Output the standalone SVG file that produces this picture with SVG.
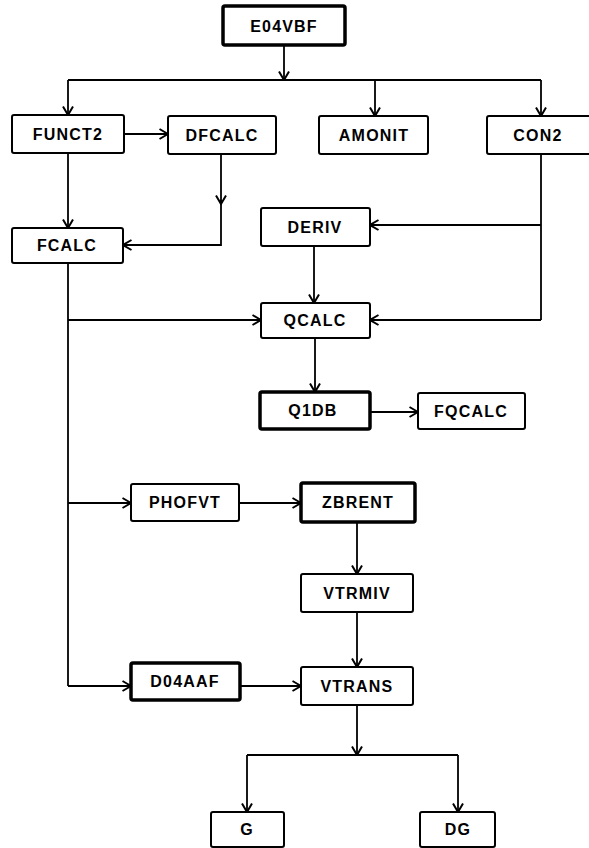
<svg xmlns="http://www.w3.org/2000/svg" width="589" height="848" viewBox="0 0 589 848">
<style>
.box{fill:#fff;stroke:#000;stroke-width:2}
.thick{fill:#fff;stroke:#000;stroke-width:3.5}
.lbl{font-family:"Liberation Sans",Arial,sans-serif;font-weight:bold;font-size:16px;letter-spacing:1.2px;text-anchor:middle;dominant-baseline:central;fill:#000}
.ln{fill:none;stroke:#000;stroke-width:1.8}
.arr{marker-end:url(#ah)}
</style>
<defs>
<marker id="ah" markerUnits="userSpaceOnUse" viewBox="0 0 10 12" refX="9.5" refY="6" markerWidth="10" markerHeight="12" orient="auto">
<path d="M1,1 L9.5,6 L1,11" fill="none" stroke="#000" stroke-width="2"/>
</marker>
</defs>
<rect width="589" height="848" fill="#fff"/>
<g id="connectors">
<path class="ln arr" d="M284,45 V80"/>
<path class="ln" d="M68,80 H541"/>
<path class="ln arr" d="M68,80 V115"/>
<path class="ln arr" d="M375,80 V116"/>
<path class="ln arr" d="M541,80 V116"/>
<path class="ln arr" d="M124,134 H168"/>
<path class="ln arr" d="M68,153 V228"/>
<path class="ln arr" d="M221,154 V204"/>
<path class="ln arr" d="M221,200 V245 H123"/>
<path class="ln" d="M541,154 V320"/>
<path class="ln arr" d="M541,225 H370"/>
<path class="ln arr" d="M541,320 H370"/>
<path class="ln" d="M68,263 V686"/>
<path class="ln arr" d="M68,320 H261"/>
<path class="ln arr" d="M314,246 V303"/>
<path class="ln arr" d="M315,338 V392"/>
<path class="ln arr" d="M370,412 H418"/>
<path class="ln arr" d="M68,503 H131"/>
<path class="ln arr" d="M239,503 H301"/>
<path class="ln arr" d="M357,522 V574"/>
<path class="ln arr" d="M357,612 V667"/>
<path class="ln arr" d="M68,686 H131"/>
<path class="ln arr" d="M240,686 H301"/>
<path class="ln arr" d="M357,705 V755"/>
<path class="ln" d="M247,755 H458"/>
<path class="ln arr" d="M247,755 V812"/>
<path class="ln arr" d="M458,755 V812"/>
</g>
<g id="E04VBF"><rect class="thick" x="223" y="6" width="122" height="39" rx="2"/><text class="lbl" x="284" y="26">E04VBF</text></g>
<g id="FUNCT2"><rect class="box" x="12" y="115" width="112" height="38" rx="2"/><text class="lbl" x="68" y="134">FUNCT2</text></g>
<g id="DFCALC"><rect class="box" x="168" y="116" width="108" height="38" rx="2"/><text class="lbl" x="222" y="135">DFCALC</text></g>
<g id="AMONIT"><rect class="box" x="319" y="116" width="109" height="38" rx="2"/><text class="lbl" x="374" y="135">AMONIT</text></g>
<g id="CON2"><rect class="box" x="487" y="116" width="104" height="38" rx="2"/><text class="lbl" x="538" y="135">CON2</text></g>
<g id="FCALC"><rect class="box" x="12" y="228" width="111" height="35" rx="2"/><text class="lbl" x="67" y="245.5">FCALC</text></g>
<g id="DERIV"><rect class="box" x="261" y="208" width="109" height="38" rx="2"/><text class="lbl" x="315" y="227">DERIV</text></g>
<g id="QCALC"><rect class="box" x="261" y="303" width="109" height="35" rx="2"/><text class="lbl" x="315" y="320.5">QCALC</text></g>
<g id="Q1DB"><rect class="thick" x="260" y="392" width="110" height="37" rx="2"/><text class="lbl" x="313" y="410.5">Q1DB</text></g>
<g id="FQCALC"><rect class="box" x="418" y="393" width="107" height="36" rx="2"/><text class="lbl" x="471" y="411">FQCALC</text></g>
<g id="PHOFVT"><rect class="box" x="131" y="484" width="108" height="37" rx="2"/><text class="lbl" x="185" y="502.5">PHOFVT</text></g>
<g id="ZBRENT"><rect class="thick" x="301" y="483" width="114" height="39" rx="2"/><text class="lbl" x="358" y="502.5">ZBRENT</text></g>
<g id="VTRMIV"><rect class="box" x="301" y="574" width="112" height="38" rx="2"/><text class="lbl" x="357" y="593">VTRMIV</text></g>
<g id="D04AAF"><rect class="thick" x="131" y="663" width="109" height="37" rx="2"/><text class="lbl" x="185" y="681.5">D04AAF</text></g>
<g id="VTRANS"><rect class="box" x="301" y="667" width="112" height="38" rx="2"/><text class="lbl" x="357" y="686">VTRANS</text></g>
<g id="G"><rect class="box" x="211" y="812" width="73" height="35" rx="2"/><text class="lbl" x="247" y="829.5">G</text></g>
<g id="DG"><rect class="box" x="420" y="812" width="75" height="35" rx="2"/><text class="lbl" x="458" y="829.5">DG</text></g>
</svg>
